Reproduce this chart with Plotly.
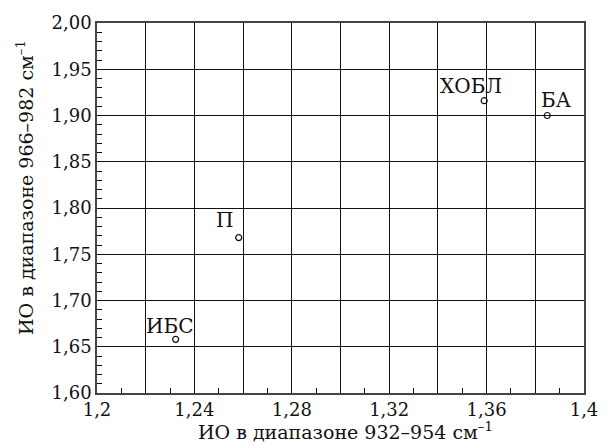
import plotly.graph_objects as go

groups = ["ИБС", "П", "ХОБЛ", "БА"]
x_vals = [1.2323, 1.2582, 1.359, 1.3849]
y_vals = [1.658, 1.768, 1.916, 1.900]

x_tickvals = [1.20, 1.22, 1.24, 1.26, 1.28, 1.30, 1.32, 1.34, 1.36, 1.38, 1.40]
x_ticktext = ["1,2", " ", "1,24", " ", "1,28", " ", "1,32", " ", "1,36", " ", "1,4"]
y_tickvals = [1.60, 1.65, 1.70, 1.75, 1.80, 1.85, 1.90, 1.95, 2.00]
y_ticktext = ["1,60", "1,65", "1,70", "1,75", "1,80", "1,85", "1,90", "1,95", "2,00"]

x_title = "ИО в диапазоне 932–954 см<sup>–1</sup>"
y_title = "ИО в диапазоне 966–982 см<sup>–1</sup>"

label_shift_x = [-6, -14, -13, 9]
label_shift_y = [13, 18, 15, 16]

FONT = "DejaVu Serif"

fig = go.Figure()
fig.add_trace(go.Scatter(
    x=x_vals, y=y_vals, mode="markers",
    marker=dict(symbol="circle-open", size=6, color="#111", line=dict(width=1.2)),
    showlegend=False, cliponaxis=False,
))
for g, xv, yv, sx, sy in zip(groups, x_vals, y_vals, label_shift_x, label_shift_y):
    fig.add_annotation(x=xv, y=yv, text=g, showarrow=False, xshift=sx, yshift=sy,
                       xanchor="center", yanchor="middle",
                       font=dict(family=FONT, size=20, color="#111"))

fig.add_annotation(xref="paper", yref="paper", x=0.5, y=0, yshift=-38, xshift=5,
                   xanchor="center", yanchor="middle", showarrow=False,
                   text=x_title, font=dict(family=FONT, size=19, color="#111"))
fig.add_annotation(xref="paper", yref="paper", x=0, y=0.5, xshift=-72, yshift=20,
                   xanchor="center", yanchor="middle", showarrow=False, textangle=-90,
                   text=y_title, font=dict(family=FONT, size=19, color="#111"))

axis_common = dict(
    showline=True, linecolor="#444", linewidth=1.5, mirror=True,
    showgrid=True, gridcolor="#111", gridwidth=1,
    ticks="inside", ticklen=7, tickcolor="#111", tickwidth=1,
    tickfont=dict(family=FONT, size=18, color="#111"),
    zeroline=False, ticklabeloverflow="allow",
)

fig.update_xaxes(
    range=[1.2, 1.4], tickmode="array", tickvals=x_tickvals, ticktext=x_ticktext,
    minor=dict(dtick=0.01, tick0=1.2, ticks="inside", ticklen=5, tickcolor="#111", showgrid=False),
    **axis_common,
)
fig.update_yaxes(
    range=[1.6, 2.0], tickmode="array", tickvals=y_tickvals, ticktext=y_ticktext,
    minor=dict(dtick=0.01, tick0=1.6, ticks="inside", ticklen=5, tickcolor="#111", showgrid=False),
    **axis_common,
)

fig.update_layout(
    width=610, height=448,
    margin=dict(l=97, r=14, t=19, b=55),
    plot_bgcolor="white", paper_bgcolor="white",
    font=dict(family=FONT, color="#111"),
)

fig.write_html("out.html", config={"displayModeBar": False},
               post_script="document.body.style.margin='0';")
